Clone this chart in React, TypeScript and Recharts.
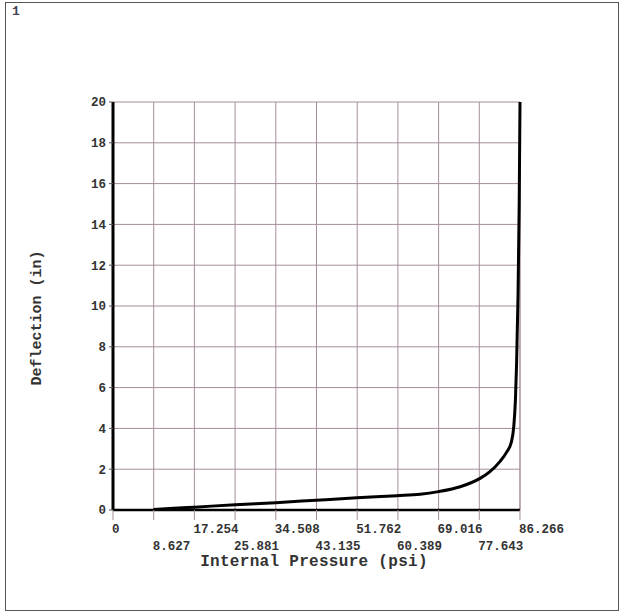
import { CartesianGrid, Line, LineChart, XAxis, YAxis } from 'recharts'

const pressure = [8.6, 12.9, 17.3, 25.9, 34.5, 43.1, 51.7, 60.2, 65.1, 69.0, 73.6, 77.8, 79.9, 82.0, 83.5, 84.4, 84.95, 85.3, 85.55, 85.85, 86.1, 86.27]
const deflection = [0.03, 0.08, 0.14, 0.26, 0.36, 0.48, 0.6, 0.7, 0.77, 0.9, 1.14, 1.55, 1.88, 2.37, 2.86, 3.3, 4.1, 5.4, 7.2, 10.5, 15, 20]

const xTicks = [0, 8.627, 17.254, 25.881, 34.508, 43.135, 51.762, 60.389, 69.016, 77.643, 86.266]
const xTickLabels = ['0', '8.627', '17.254', '25.881', '34.508', '43.135', '51.762', '60.389', '69.016', '77.643', '86.266']
const yTicks = [0, 2, 4, 6, 8, 10, 12, 14, 16, 18, 20]

const data = pressure.map((p, i) => ({ p, d: deflection[i] }))

const gridColor = '#a48e9c'
const mono = '"Liberation Mono", "DejaVu Sans Mono", monospace'

// labels start at the tick and alternate between two rows
function XTick(props: any) {
  const { x, y, payload, index } = props
  const odd = index % 2 === 1
  return (
    <text
      x={x - 1}
      y={y + (odd ? 19 : 2)}
      dy="0.71em"
      textAnchor="start"
      fill="#333"
      fontFamily={mono}
      fontWeight="bold"
      fontSize={12.5}
    >
      {xTickLabels[xTicks.indexOf(payload.value)] ?? payload.value}
    </text>
  )
}

export default function App() {
  return (
    <div style={{ position: 'absolute', left: 0, top: 0, width: 624, height: 614, background: '#fff' }}>
      <div
        style={{
          position: 'absolute',
          left: 5,
          top: 2,
          width: 612,
          height: 607,
          border: '1.5px solid #555',
        }}
      />
      <div
        style={{
          position: 'absolute',
          left: 12,
          top: 4,
          fontFamily: mono,
          fontWeight: 'bold',
          fontSize: 13,
          color: '#445',
        }}
      >
        1
      </div>
      <LineChart
        width={624}
        height={614}
        data={data}
        margin={{ top: 102, right: 104, bottom: 44, left: 0 }}
        style={{ position: 'absolute', left: 0, top: 0 }}
      >
        <CartesianGrid stroke={gridColor} strokeWidth={1} />
        <XAxis
          dataKey="p"
          type="number"
          domain={[0, 86.266]}
          ticks={xTicks}
          interval={0}
          tick={<XTick />}
          tickSize={10}
          tickLine={{ stroke: gridColor }}
          axisLine={{ stroke: '#000', strokeWidth: 2.5 }}
          height={60}
        />
        <YAxis
          type="number"
          domain={[0, 20]}
          ticks={yTicks}
          interval={0}
          tickSize={4}
          tickMargin={3}
          tickLine={{ stroke: '#555' }}
          axisLine={{ stroke: '#000', strokeWidth: 3 }}
          tick={{ fill: '#333', fontFamily: mono, fontWeight: 'bold', fontSize: 12.5 }}
          width={113}
        />
        <Line
          type="monotone"
          dataKey="d"
          stroke="#000"
          strokeWidth={3}
          dot={false}
          isAnimationActive={false}
        />
      </LineChart>
      <div
        style={{
          position: 'absolute',
          left: 114,
          width: 400,
          top: 553,
          textAlign: 'center',
          fontFamily: mono,
          fontWeight: 'bold',
          fontSize: 16,
          letterSpacing: 0.3,
          color: '#333',
        }}
      >
        Internal Pressure (psi)
      </div>
      <div
        style={{
          position: 'absolute',
          left: 37,
          top: 318,
          transform: 'translate(-50%, -50%) rotate(-90deg)',
          whiteSpace: 'nowrap',
          fontFamily: mono,
          fontWeight: 'bold',
          fontSize: 15,
          color: '#333',
        }}
      >
        Deflection (in)
      </div>
    </div>
  )
}
